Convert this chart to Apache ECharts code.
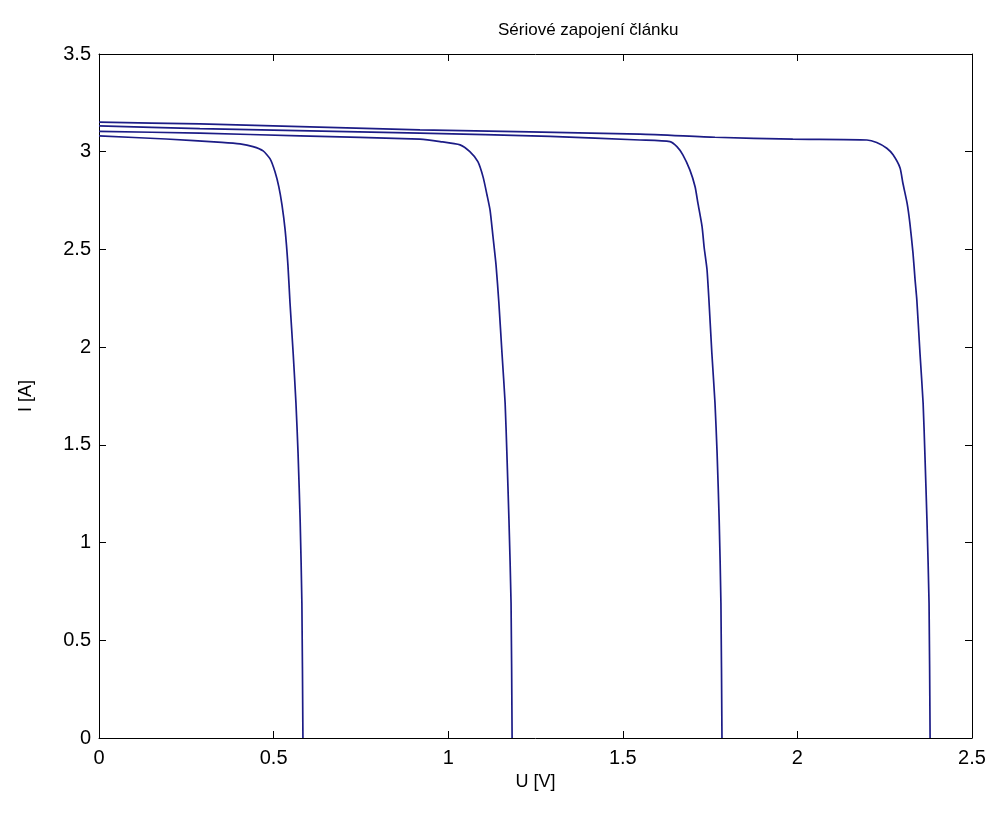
<!DOCTYPE html>
<html>
<head>
<meta charset="utf-8">
<script src="https://cdn.jsdelivr.net/npm/echarts@6/dist/echarts.min.js"></script>
<style>html,body{margin:0;padding:0;background:#fff;}#c{width:994px;height:813px;}</style>
</head>
<body>
<div id="c"></div>
<script>
const titleText = 'Sériové zapojení článku';
const xName = 'U [V]';
const yName = 'I [A]';

// 1 cell
const u1 = [0, 0.192, 0.352, 0.404, 0.441, 0.470, 0.490, 0.504, 0.515, 0.524, 0.533, 0.541, 0.547, 0.556, 0.564, 0.570, 0.576, 0.581, 0.584];
const i1 = [3.081, 3.065, 3.048, 3.040, 3.026, 3.004, 2.963, 2.897, 2.820, 2.728, 2.600, 2.421, 2.226, 1.970, 1.714, 1.459, 1.116, 0.691, 0];
// 2 cells
const u2 = [0, 0.289, 0.576, 0.919, 0.977, 1.034, 1.062, 1.085, 1.100, 1.111, 1.120, 1.128, 1.137, 1.145, 1.154, 1.163, 1.168, 1.174, 1.180, 1.183];
const i2 = [3.104, 3.095, 3.081, 3.064, 3.052, 3.035, 3.000, 2.949, 2.870, 2.780, 2.700, 2.570, 2.420, 2.230, 1.970, 1.714, 1.459, 1.116, 0.691, 0];
// 3 cells
const u3 = [0, 0.289, 0.919, 1.292, 1.549, 1.635, 1.655, 1.672, 1.692, 1.707, 1.715, 1.727, 1.733, 1.741, 1.747, 1.755, 1.764, 1.770, 1.776, 1.781, 1.784];
const i3 = [3.132, 3.118, 3.095, 3.078, 3.060, 3.052, 3.026, 2.984, 2.907, 2.821, 2.738, 2.617, 2.510, 2.400, 2.230, 1.970, 1.714, 1.459, 1.116, 0.691, 0];
// 4 cells
const u4 = [0, 0.289, 0.919, 1.549, 1.764, 1.987, 2.199, 2.227, 2.256, 2.274, 2.294, 2.302, 2.314, 2.322, 2.331, 2.337, 2.342, 2.351, 2.360, 2.365, 2.371, 2.377, 2.380];
const i4 = [3.151, 3.142, 3.112, 3.090, 3.074, 3.064, 3.060, 3.047, 3.018, 2.984, 2.917, 2.840, 2.738, 2.636, 2.482, 2.344, 2.242, 1.970, 1.714, 1.459, 1.116, 0.691, 0];

const xTicks = [0, 0.5, 1, 1.5, 2, 2.5];
const yTicks = [0, 0.5, 1, 1.5, 2, 2.5, 3, 3.5];

const zip = (u, i) => u.map((v, k) => [v, i[k]]);
const lineColor = '#1c1c86';
const fontFam = '"Liberation Sans", Arial, sans-serif';

const chart = echarts.init(document.getElementById('c'), null, {renderer: 'canvas'});

const baseAxis = {
  axisLine: {show: true, onZero: false, lineStyle: {color: '#000', width: 1}},
  axisTick: {show: true, inside: true, length: 7, lineStyle: {color: '#000', width: 1}},
  splitLine: {show: false}
};

chart.setOption({
  animation: false,
  backgroundColor: '#fff',
  title: {
    text: titleText, left: 493, top: 17,
    textStyle: {fontFamily: fontFam, fontSize: 17, fontWeight: 'normal', color: '#000'}
  },
  grid: {left: 99, right: 22, top: 54, bottom: 75},
  xAxis: [
    Object.assign({}, baseAxis, {
      type: 'value', min: xTicks[0], max: xTicks[xTicks.length - 1], interval: 0.5, position: 'bottom',
      name: xName, nameLocation: 'middle', nameGap: 32,
      nameTextStyle: {fontFamily: fontFam, fontSize: 18, color: '#000'},
      axisLabel: {fontFamily: fontFam, fontSize: 20, color: '#000', margin: 10, formatter: v => String(v)}
    }),
    Object.assign({}, baseAxis, {
      type: 'value', min: xTicks[0], max: xTicks[xTicks.length - 1], interval: 0.5, position: 'top',
      axisLabel: {show: false}
    })
  ],
  yAxis: [
    Object.assign({}, baseAxis, {
      type: 'value', min: yTicks[0], max: yTicks[yTicks.length - 1], interval: 0.5, position: 'left',
      name: yName, nameLocation: 'middle', nameGap: 64, nameRotate: 90,
      nameTextStyle: {fontFamily: fontFam, fontSize: 18, color: '#000'},
      axisLabel: {fontFamily: fontFam, fontSize: 20, color: '#000', margin: 8, formatter: v => String(v)}
    }),
    Object.assign({}, baseAxis, {
      type: 'value', min: yTicks[0], max: yTicks[yTicks.length - 1], interval: 0.5, position: 'right',
      axisLabel: {show: false}
    })
  ],
  series: [
    {name: '1', type: 'line', data: zip(u1, i1)},
    {name: '2', type: 'line', data: zip(u2, i2)},
    {name: '3', type: 'line', data: zip(u3, i3)},
    {name: '4', type: 'line', data: zip(u4, i4)}
  ].map(s => Object.assign(s, {
    showSymbol: false, symbol: 'none', smooth: 0.2,
    lineStyle: {color: lineColor, width: 1.7}, itemStyle: {color: lineColor}
  }))
});
</script>
</body>
</html>
